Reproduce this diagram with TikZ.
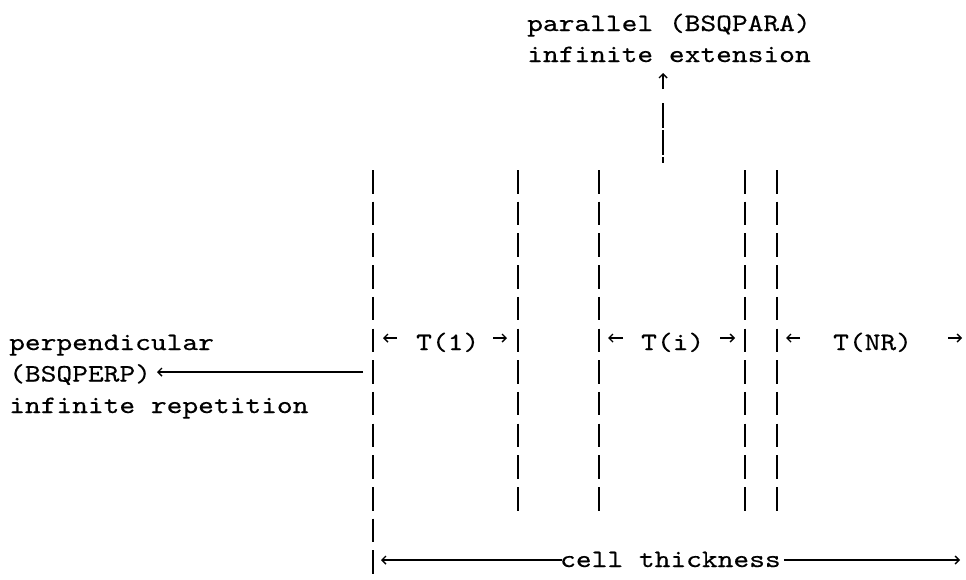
\documentclass[tikz,border=0pt]{standalone}
\usepackage{fontspec}
\newfontfamily\tw{lmmono10-regular.otf}[FakeStretch=1.2,FakeBold=0.4]
\usetikzlibrary{arrows.meta}
\tikzset{
  txt/.style={inner sep=0pt, anchor=base west, font=\tw\fontsize{25}{31.7}\selectfont},
  wall/.style={line width=2pt, dash pattern=on 23.5pt off 8.2pt},
  darr/.style={line width=1.4pt, -{Straight Barb[length=4pt,width=8pt]}},
  small/.style={line width=1.4pt, -{Straight Barb[length=4pt,width=8pt]}},
}
\begin{document}
\begin{tikzpicture}[x=1pt,y=-1pt]
\useasboundingbox (0,0) rectangle (966,579);
% texts
\node[txt] (par1) at (527,31) {parallel (BSQPARA)};
\node[txt] (par2) at (527,62) {infinite extension};
\node[txt] (perp1) at (9,350) {perpendicular};
\node[txt] (perp2) at (9,381.5) {(BSQPERP)};
\node[txt] (perp3) at (9,413) {infinite repetition};
\node[txt] (t1) at (416,350) {T(1)};
\node[txt] (ti) at (641,350) {T(i)};
\node[txt] (tnr) at (833,350) {T(NR)};
\node[txt] (cell) at (560,567) {cell thickness};
% walls
\coordinate (w0t) at (373,170); \coordinate (w0b) at (373,577);
\coordinate (w1t) at (518,170); \coordinate (w1b) at (518,512);
\coordinate (w2t) at (599,170); \coordinate (w2b) at (599,512);
\coordinate (w3t) at (745,170); \coordinate (w3b) at (745,512);
\coordinate (w4t) at (777,170); \coordinate (w4b) at (777,512);
\draw[wall] (w0t) -- (w0b);
\draw[wall] (w1t) -- (w1b);
\draw[wall] (w2t) -- (w2b);
\draw[wall] (w3t) -- (w3b);
\draw[wall] (w4t) -- (w4b);
% up arrow
\coordinate (ua) at (663,163); \coordinate (ub) at (663,103);
\coordinate (uc) at (663,89); \coordinate (ud) at (663,73);
\draw[line width=1.6pt, dash pattern=on 25pt off 2pt] (ub) -- (ua);
\draw[small] (uc) -- (ud);
% perpendicular arrow
\coordinate (pa) at (363,372); \coordinate (pb) at (157,372);
\draw[darr] (pa) -- (pb);
% T arrows
\coordinate (a1) at (397,338); \coordinate (a2) at (383,338);
\coordinate (a3) at (493,338); \coordinate (a4) at (507,338);
\coordinate (a5) at (623,338); \coordinate (a6) at (608,338);
\coordinate (a7) at (720,338); \coordinate (a8) at (735,338);
\coordinate (a9) at (800,338); \coordinate (a10) at (786,338);
\coordinate (a11) at (948,338); \coordinate (a12) at (962,338);
\draw[small] (a1) -- (a2);
\draw[small] (a3) -- (a4);
\draw[small] (a5) -- (a6);
\draw[small] (a7) -- (a8);
\draw[small] (a9) -- (a10);
\draw[small] (a11) -- (a12);
% cell thickness
\coordinate (cl) at (381,560); \coordinate (cr) at (960,560);
\draw[darr] (cell.west |- cl) ++(2,0) -- (cl);
\draw[darr] (cell.east |- cr) ++(3,0) -- (cr);
\end{tikzpicture}
\end{document}
